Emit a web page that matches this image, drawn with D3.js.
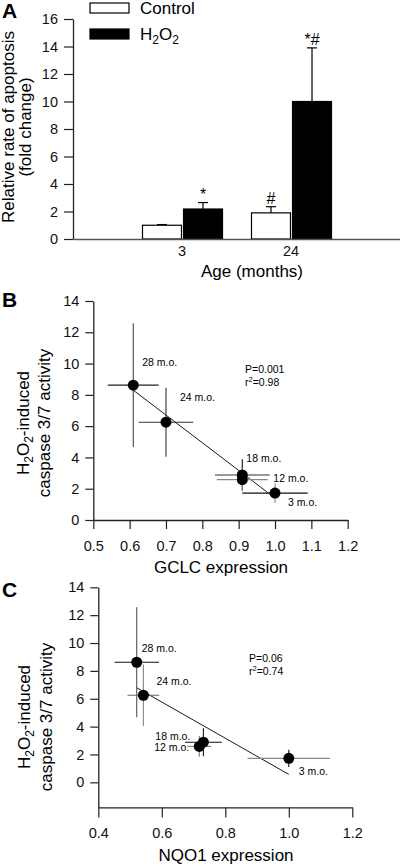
<!DOCTYPE html>
<html>
<head>
<meta charset="utf-8">
<script src="https://cdn.jsdelivr.net/npm/d3@7"></script>
<style>
  html, body { margin: 0; padding: 0; background: #fff; }
  svg { display: block; font-family: "Liberation Sans", Arial, sans-serif; }
</style>
</head>
<body>
<svg id="chart" width="400" height="866"></svg>
<script>
// ---------------- DATA ----------------
// Panel A
const ageGroups = ["3", "24"];
const seriesNames = ["Control", "H2O2"];
const controlMeans = [1.0, 1.9];
const controlErr = [0.05, 0.45];
const h2o2Means = [2.18, 10.0];
const h2o2Err = [0.47, 3.9];
const controlMarks = ["", "#"];
const h2o2Marks = ["*", "*#"];
const yTicksA = [0, 2, 4, 6, 8, 10, 12, 14, 16];

// Panels B and C
const ageLabels = ["28 m.o.", "24 m.o.", "18 m.o.", "12 m.o.", "3 m.o."];
const caspase = [8.62, 6.25, 2.88, 2.58, 1.72];
const caspaseErr = [3.95, 2.2, 1.0, 0.75, 0.62];
const gclc = [0.61, 0.70, 0.91, 0.91, 1.00];
const gclcErr = [0.07, 0.075, 0.075, 0.07, 0.09];
const nqo1 = [0.521, 0.542, 0.731, 0.718, 1.00];
const nqo1Err = [0.07, 0.05, 0.058, 0.037, 0.13];
const fitB = [[0.61, 8.3], [1.0, 1.4]];
const fitC = [[0.52, 6.8], [1.0, 0.57]];
const statsB = ["P=0.001", "0.98"];
const statsC = ["P=0.06", "0.74"];
const yTicksBC = [0, 2, 4, 6, 8, 10, 12, 14];
const xTicksB = [0.5, 0.6, 0.7, 0.8, 0.9, 1.0, 1.1, 1.2];
const xTicksC = [0.4, 0.6, 0.8, 1.0, 1.2];

// ---------------- DRAW ----------------
const svg = d3.select("#chart");
const FONT_TICK = 14.5, FONT_TITLE = 17, FONT_SMALL = 10.5;

function styleAxis(g) {
  g.selectAll("path.domain").attr("stroke", "#222").attr("stroke-width", 1.3);
  g.selectAll(".tick line").attr("stroke", "#222").attr("stroke-width", 1.2);
  g.selectAll(".tick text").attr("font-size", FONT_TICK).attr("fill", "#111")
    .attr("font-family", '"Liberation Sans", Arial, sans-serif');
}

function panelLabel(t, x, y) {
  svg.append("text").attr("x", x).attr("y", y).text(t)
    .attr("font-size", 21).attr("font-weight", "bold").attr("fill", "#000");
}

// ---------- Panel A ----------
panelLabel("A", 2, 18);
const yA = d3.scaleLinear().domain([0, 16]).range([239, 19]);
const xA = d3.scaleBand().domain(ageGroups).range([73, 400]).paddingInner(0).paddingOuter(0.5);
const xA1 = d3.scaleBand().domain(seriesNames).range([15, 95]).paddingInner(0.05);

const gyA = svg.append("g").attr("transform", "translate(73,0)")
  .call(d3.axisLeft(yA).tickValues(yTicksA).tickSize(9).tickPadding(6).tickSizeOuter(0));
styleAxis(gyA);

const gxA = svg.append("g").attr("transform", `translate(0,${yA(0)})`)
  .call(d3.axisBottom(xA).tickSize(0).tickPadding(7).tickSizeOuter(0));
styleAxis(gxA);
gxA.selectAll("path.domain").attr("stroke", "#555");

const barsA = ageGroups.map((g, i) => [
  { group: g, s: "Control", v: controlMeans[i], e: controlErr[i], mark: controlMarks[i] },
  { group: g, s: "H2O2", v: h2o2Means[i], e: h2o2Err[i], mark: h2o2Marks[i] }
]).flat();

const gBars = svg.append("g");
barsA.forEach(d => {
  const x0 = xA(d.group) - xA.step() * 0 + xA1(d.s);
  const w = xA1.bandwidth();
  const cx = x0 + w / 2;
  // error bar (upper whisker)
  gBars.append("line").attr("x1", cx).attr("x2", cx).attr("y1", yA(d.v)).attr("y2", yA(d.v + d.e))
    .attr("stroke", "#000").attr("stroke-width", 1.2);
  gBars.append("line").attr("x1", cx - 5).attr("x2", cx + 5).attr("y1", yA(d.v + d.e)).attr("y2", yA(d.v + d.e))
    .attr("stroke", "#000").attr("stroke-width", 1.2);
  gBars.append("rect").attr("x", x0).attr("y", yA(d.v)).attr("width", w).attr("height", yA(0) - yA(d.v))
    .attr("fill", d.s === "Control" ? "#fff" : "#000").attr("stroke", "#000").attr("stroke-width", 1.2);
  if (d.mark) {
    gBars.append("text").attr("x", cx).attr("y", yA(d.v + d.e) - 3).attr("text-anchor", "middle")
      .attr("font-size", 16).text(d.mark);
  }
});
gxA.raise();

// legend
const leg = svg.append("g");
seriesNames.forEach((s, i) => {
  const y = 3 + i * 26;
  leg.append("rect").attr("x", 90).attr("y", y).attr("width", 39).attr("height", 10)
    .attr("fill", s === "Control" ? "#fff" : "#000").attr("stroke", "#000").attr("stroke-width", 1.2);
  const t = leg.append("text").attr("x", 140).attr("y", y + 11).attr("font-size", FONT_TITLE);
  if (s === "H2O2") {
    t.append("tspan").text("H");
    t.append("tspan").text("2").attr("font-size", 12).attr("dy", 4);
    t.append("tspan").text("O").attr("dy", -4);
    t.append("tspan").text("2").attr("font-size", 12).attr("dy", 4);
  } else {
    t.text(s);
  }
});

// axis titles A
svg.append("text").attr("transform", "translate(14,127) rotate(-90)").attr("text-anchor", "middle")
  .attr("font-size", FONT_TITLE).text("Relative rate of apoptosis");
svg.append("text").attr("transform", "translate(31,127) rotate(-90)").attr("text-anchor", "middle")
  .attr("font-size", FONT_TITLE).text("(fold change)");
svg.append("text").attr("x", 252).attr("y", 277).attr("text-anchor", "middle")
  .attr("font-size", FONT_TITLE).text("Age (months)");

// ---------- Scatter panels ----------
function yLabelH2O2(x1, x2, cy) {
  const t = svg.append("text").attr("transform", `translate(${x1},${cy}) rotate(-90)`)
    .attr("text-anchor", "middle").attr("font-size", FONT_TITLE);
  t.append("tspan").text("H");
  t.append("tspan").text("2").attr("font-size", 12).attr("dy", 4);
  t.append("tspan").text("O").attr("dy", -4);
  t.append("tspan").text("2").attr("font-size", 12).attr("dy", 4);
  t.append("tspan").text("-induced").attr("dy", -4);
  svg.append("text").attr("transform", `translate(${x2},${cy}) rotate(-90)`)
    .attr("text-anchor", "middle").attr("font-size", FONT_TITLE).text("caspase 3/7 activity");
}

function scatterPanel(cfg) {
  const { xs, ys, xVals, xErrs, fit, stats, xTicks, xFmt, xTitle, xTitlePos,
          labelPos, tones, statsPos, xTickPad, xTickSize } = cfg;
  const gy = svg.append("g").attr("transform", `translate(${xs.range()[0]},0)`)
    .call(d3.axisLeft(ys).tickValues(yTicksBC).tickSize(8).tickPadding(6).tickSizeOuter(0));
  styleAxis(gy);
  const gx = svg.append("g").attr("transform", `translate(0,${ys.range()[0]})`)
    .call(d3.axisBottom(xs).tickValues(xTicks).tickFormat(d3.format(xFmt))
      .tickSize(xTickSize).tickPadding(xTickPad).tickSizeOuter(0));
  styleAxis(gx);

  const g = svg.append("g");
  // regression line
  g.append("line").attr("x1", xs(fit[0][0])).attr("y1", ys(fit[0][1]))
    .attr("x2", xs(fit[1][0])).attr("y2", ys(fit[1][1]))
    .attr("stroke", "#000").attr("stroke-width", 0.9);
  ageLabels.forEach((lab, i) => {
    const px = xs(xVals[i]), py = ys(caspase[i]);
    g.append("line").attr("x1", xs(xVals[i] - xErrs[i])).attr("x2", xs(xVals[i] + xErrs[i]))
      .attr("y1", py).attr("y2", py).attr("stroke", tones[i][0]).attr("stroke-width", 1.1);
    g.append("line").attr("x1", px).attr("x2", px)
      .attr("y1", ys(caspase[i] + caspaseErr[i])).attr("y2", ys(caspase[i] - caspaseErr[i]))
      .attr("stroke", tones[i][1]).attr("stroke-width", 1.1);
  });
  ageLabels.forEach((lab, i) => {
    const px = xs(xVals[i]), py = ys(caspase[i]);
    g.append("circle").attr("cx", px).attr("cy", py).attr("r", 5.5).attr("fill", "#000");
    const lp = labelPos[i];
    g.append("text").attr("x", px + lp[0]).attr("y", py + lp[1]).attr("text-anchor", lp[2] || "start")
      .attr("font-size", FONT_SMALL).text(lab);
  });
  g.append("text").attr("x", statsPos[0]).attr("y", statsPos[1]).attr("font-size", FONT_SMALL).text(stats[0]);
  const r = g.append("text").attr("x", statsPos[0]).attr("y", statsPos[1] + 12.5).attr("font-size", FONT_SMALL);
  r.append("tspan").text("r");
  r.append("tspan").text("2").attr("font-size", 7.5).attr("dy", -4);
  r.append("tspan").text("=" + stats[1]).attr("dy", 4);

  svg.append("text").attr("x", xTitlePos[0]).attr("y", xTitlePos[1]).attr("text-anchor", "middle")
    .attr("font-size", FONT_TITLE).text(xTitle);
}

// ---------- Panel B ----------
panelLabel("B", 2, 307);
const xB = d3.scaleLinear().domain([0.5, 1.2]).range([93.3, 347.7]);
const yB = d3.scaleLinear().domain([0, 14]).range([520, 301]);
scatterPanel({
  xs: xB, ys: yB, xVals: gclc, xErrs: gclcErr, fit: fitB, stats: statsB,
  xTicks: xTicksB, xFmt: ".1f", xTitle: "GCLC expression", xTitlePos: [221, 573],
  xTickSize: 9, xTickPad: 12,
  labelPos: [[9, -19], [14, -21], [4, -13], [31, 2], [13, 13]],
  tones: [["#222", "#444"], ["#333", "#333"], ["#333", "#111"], ["#888", "#888"], ["#111", "#888"]],
  statsPos: [245, 373]
});
yLabelH2O2(29, 50, 423);

// ---------- Panel C ----------
panelLabel("C", 2, 597);
const xC = d3.scaleLinear().domain([0.4, 1.2]).range([98.3, 352.3]);
const yC = d3.scaleLinear().domain([-1.8, 14]).range([807.4, 587.3]);
scatterPanel({
  xs: xC, ys: yC, xVals: nqo1, xErrs: nqo1Err, fit: fitC, stats: statsC,
  xTicks: xTicksC, xFmt: ".1f", xTitle: "NQO1 expression", xTitlePos: [226, 861],
  xTickSize: 10, xTickPad: 10,
  labelPos: [[5, -10], [13, -10], [-13, -2, "end"], [-10, 5, "end"], [10, 17]],
  tones: [["#111", "#555"], ["#666", "#888"], ["#111", "#111"], ["#777", "#777"], ["#888", "#111"]],
  statsPos: [249, 662]
});
yLabelH2O2(30, 52, 717);
</script>
</body>
</html>
